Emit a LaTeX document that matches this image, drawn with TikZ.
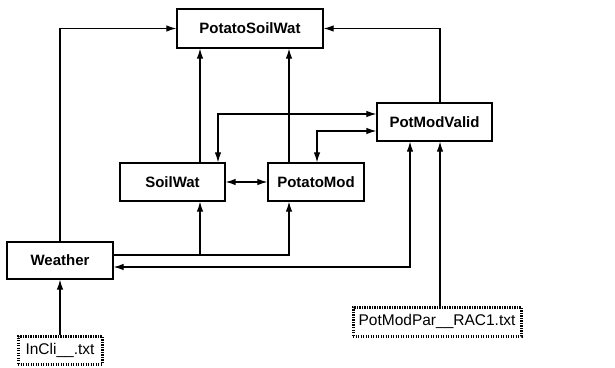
\documentclass[tikz,border=0pt]{standalone}
\usepackage{fontspec}
\setmainfont{Liberation Sans}
\usetikzlibrary{arrows.meta}
\begin{document}
\begin{tikzpicture}[x=1pt,y=1pt,line width=1.1pt,>={Latex[length=10pt,width=6.5pt]},
  box/.style={draw,line width=1.3pt,font=\fontsize{15}{18}\selectfont\bfseries,inner sep=0pt},
  filebox/.style={draw,line width=3pt,dash pattern=on 1.1pt off 1.4pt,font=\fontsize{15.5}{18}\selectfont,inner sep=0pt}]
\useasboundingbox (0,0) rectangle (615,367);

\node[box,minimum width=146,minimum height=39] (psw) at (250,338.5) {PotatoSoilWat};
\node[box,minimum width=115,minimum height=38] (pmv) at (434.5,245) {PotModValid};
\node[box,minimum width=105,minimum height=38] (sw) at (172.5,185) {SoilWat};
\node[box,minimum width=96,minimum height=38] (pm) at (316,185) {PotatoMod};
\node[box,minimum width=106,minimum height=37] (w) at (60,106.5) {Weather};
\node[filebox,minimum width=84,minimum height=28] (inc) at (60,17) {InCli\_\_.txt};
\node[filebox,minimum width=168,minimum height=29] (par) at (437,45.5) {PotModPar\_\_RAC1.txt};

% lanes
\coordinate (a) at (200,0);
\coordinate (b) at (218,0);
\coordinate (c) at (289,0);
\coordinate (d) at (317,0);
\coordinate (e) at (410,0);
\coordinate (f) at (440,0);
\coordinate (h1) at (0,253);
\coordinate (h2) at (0,236);
\coordinate (h3) at (0,112);
\coordinate (h4) at (0,100);

\draw[->] (w.north) |- (psw.west);
\draw[->] (pmv.north -| f) |- (psw.east);
\draw[->] (sw.north -| a) -- (psw.south -| a);
\draw[->] (pm.north -| c) -- (psw.south -| c);
\draw[<->] (sw.north -| b) |- (pmv.west |- h1);
\draw[<->] (pm.north -| d) |- (pmv.west |- h2);
\draw[<->] (sw.east) -- (pm.west);
\draw[->] (w.east |- h3) -| (pm.south -| c);
\draw[->] (a |- h3) -- (sw.south -| a);
\draw[<->] (w.east |- h4) -| (pmv.south -| e);
\draw[->] (par.north -| f) -- (pmv.south -| f);
\draw[->] (inc.north) -- (w.south);
\end{tikzpicture}
\end{document}
